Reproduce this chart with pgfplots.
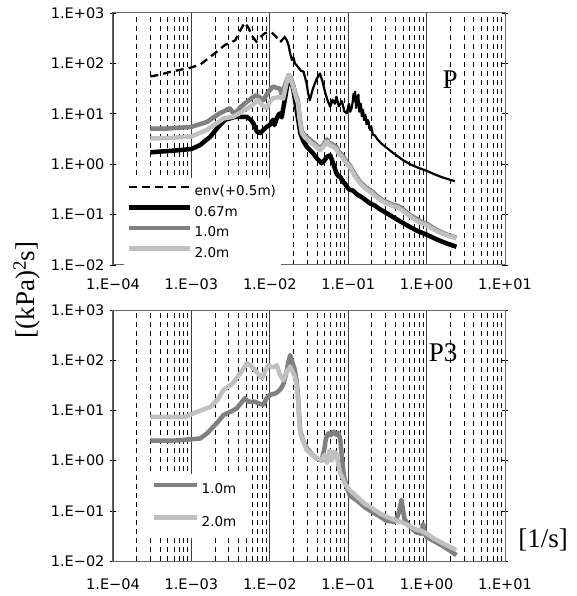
\documentclass[border=0pt]{standalone}
\usepackage{pgfplots}
\pgfplotsset{compat=1.18}
\usepackage{fontspec}
\setmainfont{Liberation Serif}
\newfontfamily\tf{DejaVu Sans}
\definecolor{dgray}{RGB}{128,128,128}
\definecolor{lgray}{RGB}{192,192,192}
\begin{document}
\begin{tikzpicture}
\path[use as bounding box] (-113pt,-331pt) rectangle (464pt,265pt);
% ---------------- top panel ----------------
\begin{axis}[xmode=log, ymode=log, scale only axis, width=392pt, height=252pt,
  at={(0pt,0pt)}, anchor=south west,
  xmin=1e-4, xmax=10, ymin=1e-2, ymax=1e3,
  xtick={1e-4,1e-3,1e-2,1e-1,1,10},
  xticklabels={1.E−04,1.E−03,1.E−02,1.E−01,1.E+00,1.E+01},
  ytick={1e-2,1e-1,1,10,100,1000},
  yticklabels={1.E−02,1.E−01,1.E+00,1.E+01,1.E+02,1.E+03},
  ticklabel style={font=\tf\fontsize{14.5}{14.5}\selectfont},
  yticklabel style={xshift=-2pt},
  xticklabel style={yshift=-10pt},
  xmajorgrids, xminorgrids,
  major grid style={black!75, line width=0.8pt, solid},
  minor grid style={black, line width=0.7pt, dash pattern=on 5pt off 4pt},
  xtick style={draw=none},
  ytick style={black, line width=0.6pt},
  ytick align=center, major tick length=6pt, minor tick length=0pt,
  yminorticks=false,
  axis line style={gray!80!black, line width=1pt},
  legend cell align=left,
  legend image code/.code={\draw[#1] (0pt,4.5pt) -- (61pt,4.5pt);},
  legend style={at={(axis description cs:0.028,-0.008)}, anchor=south west,
    fill=white, draw=none, inner xsep=3pt, inner ysep=6pt, row sep=5pt,
    font=\tf\fontsize{13.5}{13.5}\selectfont},
]
\addplot[black, line width=2.3pt, dash pattern=on 8pt off 5pt] coordinates {
(3e-4,55) (4e-4,60) (5.6e-4,69) (7e-4,74) (1e-3,83) (1.3e-3,95) (1.74e-3,135)
(2.2e-3,180) (2.7e-3,234) (3.2e-3,260) (3.63e-3,288) (4.2e-3,450) (4.79e-3,646)
(5.3e-3,520) (6e-3,340) (6.76e-3,270) (7.5e-3,330) (8.71e-3,400) (1.05e-2,417)
(1.2e-2,340) (1.35e-2,263) (1.55e-2,331) (1.66e-2,282)};
\addlegendentry{env(+0.5m)}
\addplot[black, line width=2.2pt, line join=round, forget plot] coordinates {
(1.55e-2,331) (1.66e-2,282) (1.74e-2,224) (1.82e-2,158) (1.91e-2,117) (2.0e-2,132)
(2.09e-2,100) (2.29e-2,85) (2.51e-2,71) (2.69e-2,69) (2.95e-2,40) (3.09e-2,25)
(3.24e-2,18.6) (3.55e-2,31.6) (3.98e-2,50) (4.37e-2,63) (4.68e-2,44.7) (5.13e-2,25)
(5.5e-2,17.8) (5.89e-2,13.8) (6.31e-2,19) (6.76e-2,15.8) (7.08e-2,21.9) (7.59e-2,14.1)
(8.32e-2,17.8) (8.91e-2,11.2) (9.55e-2,10.2) (0.102,15.8) (0.106,11) (0.110,12.6) (0.114,17)
(0.117,25) (0.120,18) (0.123,27.5) (0.126,13) (0.129,15.8) (0.132,20) (0.135,24) (0.138,11)
(0.141,12) (0.144,16) (0.146,14) (0.149,9) (0.151,9.5) (0.154,12) (0.156,11) (0.159,7.5)
(0.162,8) (0.165,9.5) (0.168,8.8) (0.171,6.2) (0.175,6.6) (0.178,7.5) (0.182,7.0)
(0.186,5.2) (0.191,4.8) (0.196,5.6) (0.2,5.0) (0.205,4.0) (0.209,3.8) (0.22,3.7)
(0.234,3.16) (0.263,2.6) (0.295,2.24) (0.355,1.78) (0.417,1.48) (0.501,1.2)
(0.631,0.98) (0.794,0.84) (1.0,0.74) (1.26,0.63) (1.58,0.55) (2.0,0.49) (2.29,0.46)};
\addplot[black, line width=4.5pt, line join=round] coordinates {
(3e-4,1.72) (4e-4,1.78) (6e-4,1.86) (1e-3,2.0) (1.29e-3,2.4) (1.74e-3,3.5) (2.2e-3,5.5)
(2.69e-3,7.6) (3.63e-3,8.7) (5.13e-3,8.7) (5.7e-3,7.6) (6.17e-3,6.5) (6.8e-3,4.5)
(7.5e-3,4.1) (8.3e-3,4.8) (9.12e-3,5.5) (1.0e-2,6.0) (1.1e-2,7.6) (1.15e-2,6.0)
(1.22e-2,8.0) (1.29e-2,9.5) (1.35e-2,10.2) (1.42e-2,8.5) (1.48e-2,12.5) (1.55e-2,18.6)
(1.66e-2,35) (1.74e-2,55) (1.82e-2,50) (1.91e-2,40) (2.0e-2,29.5) (2.2e-2,12)
(2.45e-2,4.1) (2.7e-2,2.8) (2.95e-2,2.24) (3.5e-2,1.7) (4.0e-2,1.3) (4.57e-2,1.05)
(5.0e-2,1.2) (5.37e-2,1.41) (5.89e-2,1.5) (6.5e-2,1.0) (7.08e-2,0.66) (7.5e-2,0.58)
(8e-2,0.55) (8.5e-2,0.45) (9e-2,0.42) (0.1,0.33) (0.105,0.31) (0.115,0.3) (0.13,0.25)
(0.15,0.22) (0.17,0.19) (0.191,0.166) (0.22,0.15) (0.25,0.13) (0.3,0.11) (0.38,0.088)
(0.45,0.075) (0.6,0.058) (0.75,0.048) (1.0,0.04) (1.25,0.034) (1.5,0.03) (1.9,0.026)
(2.4,0.023)};
\addlegendentry{0.67m}
\addplot[dgray, line width=4.5pt, line join=round] coordinates {
(3e-4,5.1) (5e-4,5.1) (1e-3,5.5) (1.58e-3,6.9) (2.29e-3,10.2) (3.09e-3,12.9)
(3.39e-3,10.5) (3.8e-3,11) (4.2e-3,13.5) (5.13e-3,17.4) (6.0e-3,21) (6.76e-3,23.4)
(7.5e-3,21) (8.32e-3,18.6) (9.1e-3,24) (1e-2,29.5) (1.1e-2,34.7) (1.2e-2,33)
(1.35e-2,31.6) (1.42e-2,24) (1.48e-2,30) (1.55e-2,35) (1.66e-2,48) (1.74e-2,58.9)
(1.82e-2,55) (1.91e-2,45) (2.0e-2,36) (2.1e-2,27) (2.29e-2,17.5) (2.4e-2,8.6)
(2.57e-2,4.4) (2.8e-2,3.7) (3.24e-2,3.1) (3.8e-2,2.5) (4.37e-2,2.05) (4.8e-2,2.4)
(5.37e-2,3.1) (5.6e-2,2.7) (5.89e-2,2.6) (6.5e-2,2.4) (7.08e-2,2.2) (7.6e-2,1.75)
(8.32e-2,1.55) (9.2e-2,1.2) (0.105,0.95) (0.12,0.65) (0.141,0.45) (0.17,0.34)
(0.2,0.29) (0.229,0.24) (0.28,0.19) (0.33,0.17) (0.38,0.155) (0.42,0.15)
(0.479,0.135) (0.6,0.1) (0.741,0.083) (0.85,0.072) (1.0,0.066) (1.2,0.055)
(1.48,0.046) (1.9,0.039) (2.4,0.035)};
\addlegendentry{1.0m}
\addplot[lgray, line width=4.5pt, line join=round] coordinates {
(3e-4,3.24) (5e-4,3.3) (1e-3,3.55) (1.58e-3,4.8) (2.57e-3,8.1) (3.39e-3,8.7)
(4.2e-3,10.5) (5.62e-3,13.8) (7.08e-3,18.6) (8.0e-3,15) (9.12e-3,12.9) (1.0e-2,17)
(1.1e-2,20.4) (1.35e-2,21.4) (1.48e-2,20) (1.6e-2,35) (1.74e-2,58.9) (1.82e-2,52)
(1.91e-2,42) (2.0e-2,33.9) (2.1e-2,25) (2.29e-2,16.2) (2.4e-2,8) (2.57e-2,4.1)
(2.8e-2,3.4) (3.24e-2,2.8) (3.8e-2,2.3) (4.37e-2,1.9) (4.8e-2,2.2) (5.37e-2,2.8)
(5.6e-2,2.5) (5.89e-2,2.4) (6.5e-2,2.2) (7.08e-2,2.0) (7.6e-2,1.6) (8.32e-2,1.41)
(9.2e-2,1.1) (0.105,0.89) (0.12,0.6) (0.141,0.42) (0.17,0.32) (0.2,0.27)
(0.229,0.224) (0.28,0.18) (0.33,0.16) (0.38,0.145) (0.42,0.14) (0.479,0.125)
(0.6,0.095) (0.741,0.076) (0.85,0.068) (1.0,0.062) (1.2,0.052) (1.48,0.044)
(1.9,0.038) (2.4,0.034)};
\addlegendentry{2.0m}
\node[font=\fontsize{27}{27}\selectfont] at (axis description cs:0.86,0.734) {P};
\end{axis}
% ---------------- bottom panel ----------------
\begin{axis}[xmode=log, ymode=log, scale only axis, width=392pt, height=251pt,
  at={(0pt,-296pt)}, anchor=south west,
  xmin=1e-4, xmax=10, ymin=1e-2, ymax=1e3,
  xtick={1e-4,1e-3,1e-2,1e-1,1,10},
  xticklabels={1.E−04,1.E−03,1.E−02,1.E−01,1.E+00,1.E+01},
  ytick={1e-2,1e-1,1,10,100,1000},
  yticklabels={1.E−02,1.E−01,1.E+00,1.E+01,1.E+02,1.E+03},
  ticklabel style={font=\tf\fontsize{14.5}{14.5}\selectfont},
  yticklabel style={xshift=-2pt},
  xticklabel style={yshift=-14pt},
  xmajorgrids, xminorgrids,
  major grid style={black!75, line width=0.8pt, solid},
  minor grid style={black, line width=0.7pt, dash pattern=on 5pt off 4pt},
  xtick style={draw=none},
  ytick style={black, line width=0.6pt},
  ytick align=center, major tick length=6pt, minor tick length=0pt,
  yminorticks=false,
  axis line style={gray!80!black, line width=1pt},
  legend cell align=left,
  legend image code/.code={\draw[#1] (0pt,4.5pt) -- (43pt,4.5pt);},
  legend style={at={(axis description cs:0.069,0.092)}, anchor=south west,
    fill=white, draw=none, inner xsep=12pt, inner ysep=8pt, row sep=17pt,
    font=\tf\fontsize{13.5}{13.5}\selectfont},
]
\addplot[dgray, line width=4.5pt, line join=round] coordinates {
(3e-4,2.5) (6e-4,2.5) (1.29e-3,2.75) (1.58e-3,3.47) (2.2e-3,6) (2.57e-3,8.1)
(3.2e-3,9.5) (3.8e-3,11) (4.3e-3,14) (4.79e-3,17.4) (5.3e-3,15) (5.75e-3,14.8)
(6.5e-3,15) (7e-3,14) (8.32e-3,12.9) (9e-3,17) (1e-2,20.4) (1.2e-2,22) (1.35e-2,25.7)
(1.48e-2,32.4) (1.6e-2,50) (1.72e-2,90) (1.82e-2,126) (1.95e-2,90) (2.09e-2,63)
(2.2e-2,38) (2.29e-2,20) (2.37e-2,8) (2.45e-2,3.8) (2.7e-2,2.4) (2.95e-2,1.8)
(3.5e-2,1.3) (4.0e-2,1.1) (4.57e-2,1.0) (5.0e-2,1.8) (5.2e-2,2.8) (5.6e-2,3.5)
(6.0e-2,3.2) (6.5e-2,3.8) (7.0e-2,3.3) (7.5e-2,3.6) (7.94e-2,2.6) (8.3e-2,1.2)
(8.8e-2,0.5) (9.55e-2,0.3) (0.105,0.2) (0.13,0.16)
(0.16,0.12) (0.191,0.1) (0.25,0.078) (0.309,0.063) (0.4,0.06) (0.44,0.09)
(0.479,0.166) (0.52,0.07) (0.6,0.05) (0.741,0.037) (0.85,0.035) (0.9,0.055)
(0.95,0.034) (1.0,0.03) (1.3,0.024) (1.6,0.02) (2.0,0.016) (2.4,0.013)};
\addlegendentry{1.0m}
\addplot[lgray, line width=4.5pt, line join=round] coordinates {
(3e-4,7.4) (8.3e-4,7.4) (1.17e-3,9.3) (1.74e-3,11.7) (2.2e-3,17) (2.57e-3,25.7)
(3.39e-3,34.7) (4.2e-3,55) (5.13e-3,87) (5.6e-3,80) (6.76e-3,58.9) (7.94e-3,43.7)
(8.7e-3,60) (9.55e-3,79.4) (1.1e-2,72) (1.23e-2,79.4) (1.35e-2,51.3) (1.48e-2,40)
(1.65e-2,60) (1.82e-2,74) (1.95e-2,60) (2.09e-2,46.8) (2.2e-2,30) (2.29e-2,16.2)
(2.37e-2,6) (2.45e-2,3.5) (2.7e-2,2.3) (2.95e-2,1.62) (3.5e-2,1.3) (4.0e-2,1.1)
(4.57e-2,1.02) (5.0e-2,1.3) (5.4e-2,0.9) (5.8e-2,1.6) (6.2e-2,1.0) (6.6e-2,1.5)
(7.08e-2,1.38) (7.5e-2,0.8) (7.94e-2,0.56) (8.5e-2,0.45) (9e-2,0.35) (0.105,0.257)
(0.13,0.19) (0.16,0.14) (0.191,0.12) (0.25,0.09) (0.309,0.076) (0.4,0.065)
(0.5,0.058) (0.6,0.05) (0.741,0.042) (0.85,0.04) (1.0,0.035) (1.3,0.027)
(1.62,0.0224) (2.0,0.019) (2.4,0.0166)};
\addlegendentry{2.0m}
\node[font=\fontsize{27}{27}\selectfont] at (axis description cs:0.842,0.829) {P3};
\end{axis}
\node[font=\fontsize{27}{27}\selectfont, rotate=90] at (-86pt,-25pt) {[(kPa)\textsuperscript{2}s]};
\node[font=\fontsize{27}{27}\selectfont] at (430pt,-275pt) {[1/s]};
\end{tikzpicture}
\end{document}
